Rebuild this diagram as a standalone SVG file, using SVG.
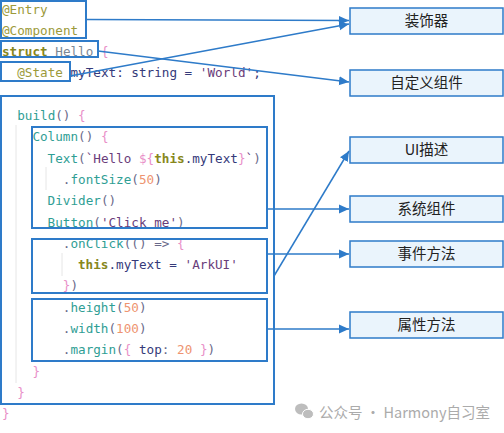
<svg xmlns="http://www.w3.org/2000/svg" width="504" height="433" viewBox="0 0 504 433">
<defs>
<marker id="arr" viewBox="0 0 10 10" refX="10" refY="5" markerWidth="10" markerHeight="10" markerUnits="userSpaceOnUse" orient="auto">
<path d="M0,0.5 L10,5 L0,9.5 z" fill="#2e7bc9"/>
</marker>
<style>
.code{font-family:"DejaVu Sans Mono","Liberation Mono",monospace;font-size:12.65px;fill:#353a7a}
.dec{fill:#9c9a3b}
.kw{fill:#87871c;font-weight:bold}
.tp{fill:#7b8794}
.br{fill:#e98fc8}
.id{fill:#353a7a}
.st{fill:#6a3d7a}
.fn{fill:#2f9e94}
.nm{fill:#ee9470}
.pn{fill:#6a6a8a}
.lb{fill:none;stroke:#2e7bc9;stroke-width:2}
.rb{fill:#eaf4fc;stroke:#2e7bc9;stroke-width:1.5}
.rt{font-family:"Noto Sans CJK SC","Noto Sans",sans-serif;font-size:14.5px;fill:#222;text-anchor:middle}
.cn{stroke:#2e7bc9;stroke-width:1.5;fill:none;marker-end:url(#arr)}
.guide{stroke:#e6e6e6;stroke-width:1}
</style>
</defs>
<rect width="504" height="433" fill="#ffffff"/>

<g id="guides">
<line class="guide" x1="16" y1="125" x2="16" y2="383"/>
<line class="guide" x1="46" y1="167" x2="46" y2="190"/>
<line class="guide" x1="62" y1="253" x2="62" y2="276"/>
</g>

<g id="code" class="code">
<text x="2" y="13.5"><tspan class="dec">@Entry</tspan></text>
<text x="2" y="34.8"><tspan class="dec">@Component</tspan></text>
<text x="2" y="56.1"><tspan class="kw">struct</tspan><tspan class="tp"> Hello</tspan><tspan class="br"> {</tspan></text>
<text x="17.2" y="77.4"><tspan class="dec">@State</tspan><tspan class="id"> myText: string = </tspan><tspan class="st">'World'</tspan><tspan class="id">;</tspan></text>
<text x="17.2" y="120"><tspan class="fn">build</tspan><tspan class="pn">()</tspan><tspan class="br"> {</tspan></text>
<text x="32.4" y="141.3"><tspan class="fn">Column</tspan><tspan class="pn">()</tspan><tspan class="br"> {</tspan></text>
<text x="47.6" y="162.6"><tspan class="fn">Text</tspan><tspan class="pn">(</tspan><tspan class="st">`Hello </tspan><tspan class="br">${</tspan><tspan class="kw">this</tspan><tspan class="id">.myText</tspan><tspan class="br">}</tspan><tspan class="st">`</tspan><tspan class="pn">)</tspan></text>
<text x="62.8" y="183.9"><tspan class="pn">.</tspan><tspan class="fn">fontSize</tspan><tspan class="pn">(</tspan><tspan class="nm">50</tspan><tspan class="pn">)</tspan></text>
<text x="47.6" y="205.2"><tspan class="fn">Divider</tspan><tspan class="pn">()</tspan></text>
<text x="47.6" y="226.5"><tspan class="fn">Button</tspan><tspan class="pn">(</tspan><tspan class="st">'Click me'</tspan><tspan class="pn">)</tspan></text>
<text x="62.8" y="247.8"><tspan class="pn">.</tspan><tspan class="fn">onClick</tspan><tspan class="pn">(() =&gt;</tspan><tspan class="br"> {</tspan></text>
<text x="78" y="269.1"><tspan class="kw">this</tspan><tspan class="id">.myText = </tspan><tspan class="st">'ArkUI'</tspan></text>
<text x="62.8" y="290.4"><tspan class="br">}</tspan><tspan class="pn">)</tspan></text>
<text x="62.8" y="311.7"><tspan class="pn">.</tspan><tspan class="fn">height</tspan><tspan class="pn">(</tspan><tspan class="nm">50</tspan><tspan class="pn">)</tspan></text>
<text x="62.8" y="333"><tspan class="pn">.</tspan><tspan class="fn">width</tspan><tspan class="pn">(</tspan><tspan class="nm">100</tspan><tspan class="pn">)</tspan></text>
<text x="62.8" y="354.3"><tspan class="pn">.</tspan><tspan class="fn">margin</tspan><tspan class="pn">(</tspan><tspan class="br">{</tspan><tspan class="id"> top</tspan><tspan class="pn">: </tspan><tspan class="nm">20</tspan><tspan class="br"> }</tspan><tspan class="pn">)</tspan></text>
<text x="32.4" y="375.6"><tspan class="br">}</tspan></text>
<text x="17.2" y="396.9"><tspan class="br">}</tspan></text>
<text x="2" y="418.2"><tspan class="br">}</tspan></text>
</g>

<g id="decoratorsBox"><rect class="lb" x="1" y="1" width="85" height="37"/></g>
<g id="structBox"><rect class="lb" x="1" y="41" width="97" height="16"/></g>
<g id="stateBox"><rect class="lb" x="1" y="62" width="69" height="19"/></g>
<g id="buildBox"><rect class="lb" x="1" y="96" width="273" height="308"/></g>
<g id="columnBox"><rect class="lb" x="32" y="127" width="235" height="101"/></g>
<g id="onClickBox"><rect class="lb" x="32" y="239" width="235" height="54"/></g>
<g id="attrBox"><rect class="lb" x="32" y="299" width="235" height="62"/></g>

<g id="connectors">
<line class="cn" x1="86" y1="19.5" x2="349" y2="20.5"/>
<line class="cn" x1="70" y1="76" x2="349" y2="24"/>
<line class="cn" x1="98" y1="51" x2="349" y2="82"/>
<line class="cn" x1="274" y1="276" x2="349" y2="151"/>
<line class="cn" x1="267" y1="209" x2="349" y2="209"/>
<line class="cn" x1="267" y1="254" x2="349" y2="254"/>
<line class="cn" x1="267" y1="329" x2="349" y2="329"/>
</g>

<g id="n-decorator"><rect class="rb" x="350" y="8" width="153" height="26"/><text class="rt" x="426.5" y="26">装饰器</text></g>
<g id="n-custom"><rect class="rb" x="350" y="70" width="153" height="26"/><text class="rt" x="426.5" y="88">自定义组件</text></g>
<g id="n-ui"><rect class="rb" x="350" y="137" width="153" height="26"/><text class="rt" x="426.5" y="155">UI描述</text></g>
<g id="n-system"><rect class="rb" x="350" y="196" width="153" height="26"/><text class="rt" x="426.5" y="214">系统组件</text></g>
<g id="n-event"><rect class="rb" x="350" y="241" width="153" height="26"/><text class="rt" x="426.5" y="259">事件方法</text></g>
<g id="n-attr"><rect class="rb" x="350" y="312" width="153" height="26"/><text class="rt" x="426.5" y="330">属性方法</text></g>

<g id="watermark">
<ellipse cx="301.5" cy="409" rx="6.5" ry="5.5" fill="#bdbdbd"/>
<ellipse cx="308" cy="414" rx="5.5" ry="4.7" fill="#bdbdbd" stroke="#fff" stroke-width="1"/>
<text x="319" y="417.5" font-family="Noto Sans CJK SC, Noto Sans, sans-serif" font-size="14.5" fill="#ababab">公众号 · Harmony自习室</text>
</g>
</svg>
